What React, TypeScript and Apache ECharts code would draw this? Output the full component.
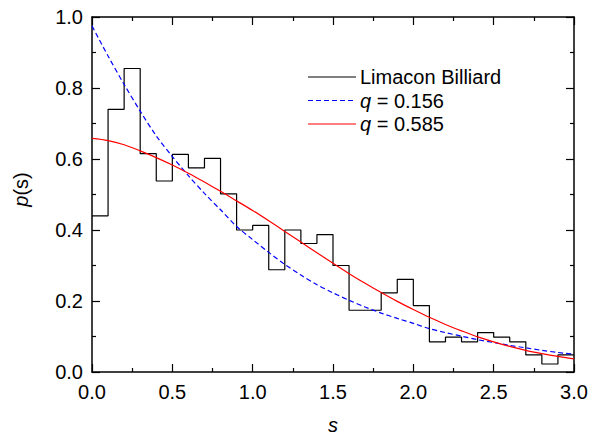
import React, { useEffect, useRef } from "react";
import * as echarts from "echarts";

// Histogram bin edges (s) and bin heights p(s)
const binEdges = [
  0.0, 0.1, 0.2, 0.3, 0.4, 0.5, 0.6, 0.7, 0.8, 0.9, 1.0,
  1.1, 1.2, 1.3, 1.4, 1.5, 1.6, 1.7, 1.8, 1.9, 2.0,
  2.1, 2.2, 2.3, 2.4, 2.5, 2.6, 2.7, 2.8, 2.9, 3.0,
];
const histValues = [
  0.44, 0.74, 0.855, 0.615, 0.538, 0.613, 0.575, 0.602, 0.502, 0.4,
  0.413, 0.288, 0.4, 0.362, 0.387, 0.3, 0.174, 0.174, 0.223, 0.261,
  0.187, 0.085, 0.098, 0.085, 0.111, 0.098, 0.085, 0.048, 0.0225, 0.048,
];

// Curves
const curveS = [
  0.0, 0.1, 0.2, 0.3, 0.4, 0.5, 0.6, 0.7, 0.8, 0.9, 1.0,
  1.1, 1.2, 1.3, 1.4, 1.5, 1.6, 1.7, 1.8, 1.9, 2.0,
  2.1, 2.2, 2.3, 2.4, 2.5, 2.6, 2.7, 2.8, 2.9, 3.0,
];
const blueValues = [
  0.975, 0.89, 0.81, 0.735, 0.665, 0.607, 0.553, 0.503, 0.457, 0.41, 0.373,
  0.337, 0.303, 0.273, 0.246, 0.223, 0.202, 0.183, 0.166, 0.151, 0.137,
  0.122, 0.111, 0.101, 0.091, 0.083, 0.075, 0.068, 0.061, 0.055, 0.05,
];
const redValues = [
  0.658, 0.652, 0.64, 0.623, 0.604, 0.583, 0.56, 0.535, 0.509, 0.482, 0.455,
  0.426, 0.396, 0.366, 0.336, 0.306, 0.277, 0.25, 0.224, 0.199, 0.176,
  0.154, 0.134, 0.116, 0.099, 0.085, 0.072, 0.061, 0.052, 0.044, 0.037,
];

const seriesNames = ["Limacon Billiard", "q = 0.156", "q = 0.585"];
const legendLabels = ["Limacon Billiard", "{i|q} = 0.156", "{i|q} = 0.585"];
const seriesColors = ["#000000", "#0000ff", "#ff0000"];
const tickFormat = (v: number) => v.toFixed(1);

const FONT = "'Liberation Sans', Arial, Helvetica, sans-serif";

export default function App() {
  const ref = useRef<HTMLDivElement>(null);

  useEffect(() => {
    if (!ref.current) return;
    const chart = echarts.init(ref.current, undefined, { renderer: "svg" });

    const histData = binEdges.map((e, i) => [e, histValues[Math.min(i, histValues.length - 1)]]);
    const blueData = curveS.map((s, i) => [s, blueValues[i]]);
    const redData = curveS.map((s, i) => [s, redValues[i]]);

    const axisCommon = {
      type: "value" as const,
      axisLine: { show: true, onZero: false, lineStyle: { color: "#000", width: 1.5 } },
      axisTick: { show: true, inside: true, length: 8, lineStyle: { color: "#000", width: 1.2 } },
      minorTick: { show: true, splitNumber: 2, length: 4, lineStyle: { color: "#000", width: 1.2 } },
      splitLine: { show: false },
      minorSplitLine: { show: false },
    };

    const legendX1 = 308;
    const legendX2 = 356;
    const legendY = [77, 100.5, 124];
    const legendGraphics: any[] = [];
    seriesNames.forEach((_, i) => {
      legendGraphics.push({
        type: "line",
        shape: { x1: legendX1, y1: legendY[i], x2: legendX2, y2: legendY[i] },
        style: {
          stroke: seriesColors[i],
          lineWidth: 1.2,
          lineDash: i === 1 ? [5, 3] : null,
        },
        z: 10,
      });
      legendGraphics.push({
        type: "text",
        x: 360,
        y: legendY[i],
        style: {
          text: legendLabels[i],
          fill: "#000",
          fontSize: 20,
          fontFamily: FONT,
          verticalAlign: "middle",
          align: "left",
          rich: { i: { fontStyle: "italic", fontSize: 20, fontFamily: FONT, fill: "#000" } },
        },
        z: 10,
      });
    });

    chart.setOption({
      animation: false,
      backgroundColor: "#fff",
      textStyle: { fontFamily: FONT },
      grid: { left: 92, right: 24, top: 17, bottom: 63, containLabel: false, outerBoundsMode: "none" },
      graphic: legendGraphics,
      xAxis: [
        {
          ...axisCommon,
          position: "bottom",
          min: 0,
          max: 3,
          interval: 0.5,
          axisLabel: { show: true, color: "#000", fontSize: 20, fontFamily: FONT, margin: 10, formatter: tickFormat },
          name: "s",
          nameLocation: "middle",
          nameGap: 53,
          nameTextStyle: {
            fontSize: 20,
            fontStyle: "italic",
            color: "#000",
            fontFamily: FONT,
            verticalAlign: "middle",
            lineHeight: 14,
          },
        },
        {
          ...axisCommon,
          position: "top",
          min: 0,
          max: 3,
          interval: 0.5,
          axisLabel: { show: false },
        },
      ],
      yAxis: [
        {
          ...axisCommon,
          position: "left",
          min: 0,
          max: 1,
          interval: 0.2,
          axisLabel: { show: true, color: "#000", fontSize: 20, fontFamily: FONT, margin: 9, formatter: tickFormat },
          name: "{i|p}(s)",
          nameLocation: "middle",
          nameGap: 61,
          nameRotate: 90,
          nameTextStyle: {
            fontSize: 20,
            color: "#000",
            fontFamily: FONT,
            padding: [0, 0, 0, 10],
            rich: { i: { fontStyle: "italic", fontSize: 20, fontFamily: FONT, color: "#000" } },
          },
        },
        {
          ...axisCommon,
          position: "right",
          min: 0,
          max: 1,
          interval: 0.2,
          axisLabel: { show: false },
        },
      ],
      series: [
        {
          name: seriesNames[0],
          type: "line",
          step: "end",
          data: histData,
          symbol: "none",
          lineStyle: { color: seriesColors[0], width: 1.2 },
          itemStyle: { color: seriesColors[0] },
          z: 3,
        },
        {
          name: seriesNames[1],
          type: "line",
          smooth: 0.3,
          data: blueData,
          symbol: "none",
          lineStyle: { color: seriesColors[1], width: 1.2, type: [5, 3] },
          itemStyle: { color: seriesColors[1] },
          z: 4,
        },
        {
          name: seriesNames[2],
          type: "line",
          smooth: 0.3,
          data: redData,
          symbol: "none",
          lineStyle: { color: seriesColors[2], width: 1.2 },
          itemStyle: { color: seriesColors[2] },
          z: 5,
        },
      ],
    });

    return () => chart.dispose();
  }, []);

  return (
    <div
      ref={ref}
      style={{ position: "fixed", left: 0, top: 0, width: 598, height: 435, background: "#fff" }}
    />
  );
}
